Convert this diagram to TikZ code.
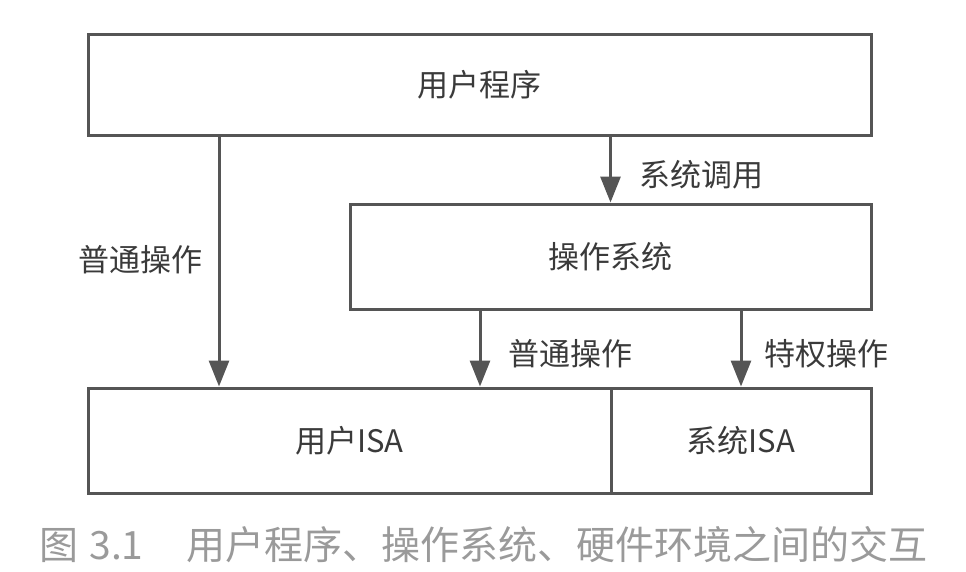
\documentclass[tikz,border=0pt]{standalone}
\usepackage{fontspec}
\setmainfont{Noto Sans CJK SC}
\usetikzlibrary{arrows.meta}
\definecolor{linec}{HTML}{555555}
\definecolor{textc}{HTML}{3A3A3A}
\definecolor{capc}{HTML}{9A9A9A}
\begin{document}
\begin{tikzpicture}[x=1pt,y=-1pt,
  box/.style={draw=linec,line width=3pt,rectangle,inner sep=0pt,text=textc,font=\fontsize{31}{31}\selectfont},
  arr/.style={draw=linec,line width=3pt,-{Triangle[length=26pt,width=20pt]}},
  lbl/.style={text=textc,font=\fontsize{31}{31}\selectfont,inner sep=0pt}]
  \useasboundingbox (0,0) rectangle (966,571);
  % boxes
  \node[box,minimum width=783pt,minimum height=101pt] (prog) at (479.5,84.5) {用户程序};
  \node[box,minimum width=521pt,minimum height=105pt] (os) at (610.5,256.5) {操作系统};
  \node[box,minimum width=523pt,minimum height=105pt] (uisa) at (349.5,440.5) {用户ISA};
  \node[box,minimum width=260pt,minimum height=105pt] (sisa) at (741,440.5) {系统ISA};
  % connectors
  \draw[arr] (prog.south -| 219,0) -- (uisa.north -| 219,0);
  \draw[arr] (prog.south -| os.north) -- (os.north);
  \draw[arr] (os.south -| 480,0) -- (uisa.north -| 480,0);
  \draw[arr] (os.south -| 741,0) -- (sisa.north);
  % labels
  \node[lbl] (l1) at (140,260) {普通操作};
  \node[lbl] (l2) at (701,175) {系统调用};
  \node[lbl] (l3) at (570,354) {普通操作};
  \node[lbl] (l4) at (826,354) {特权操作};
  % caption
  \node[text=capc,font=\fontsize{39}{39}\selectfont,inner sep=0pt] (cap) at (483.5,545) {图\hspace{11pt}3.1\hspace{43pt}用户程序、操作系统、硬件环境之间的交互};
\end{tikzpicture}
\end{document}
